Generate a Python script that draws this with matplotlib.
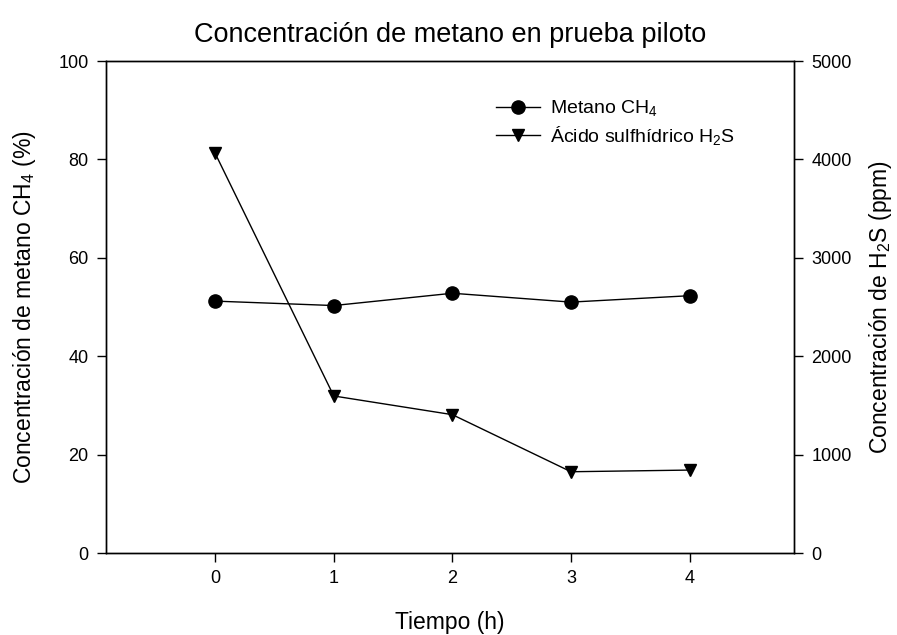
import matplotlib
matplotlib.use('Agg')
import matplotlib.pyplot as plt

plt.rcParams['font.family'] = ['Liberation Sans', 'DejaVu Sans']
plt.rcParams['mathtext.default'] = 'regular'

# Datos de la prueba piloto
tiempo  = [0, 1, 2, 3, 4]
metano  = [51.2, 50.3, 52.8, 51.0, 52.3]      # % CH4
acido   = [4062, 1596, 1406, 826, 843]        # ppm H2S

fig = plt.figure(figsize=(8.97, 6.35), dpi=100)
ax = fig.add_axes([0.1182, 0.1291, 0.767, 0.7748])
ax2 = ax.twinx()

l1, = ax.plot(tiempo, metano, color='black', lw=1, marker='o', ms=9.5,
              label='Metano CH$_4$')
l2, = ax2.plot(tiempo, acido, color='black', lw=1, marker='v', ms=8.5,
               label='Ácido sulfhídrico H$_2$S')

ax.set_xlim(-0.92, 4.88)
ax.set_ylim(0, 100)
ax2.set_ylim(0, 5000)
ax.set_xticks(tiempo)
ax.set_yticks([0, 20, 40, 60, 80, 100])
ax2.set_yticks([0, 1000, 2000, 3000, 4000, 5000])

for a in (ax, ax2):
    a.tick_params(direction='out', length=6.5, width=1, labelsize=13, pad=6)
    for s in a.spines.values():
        s.set_linewidth(1)

ax.set_xlabel('Tiempo (h)', fontsize=16.5, labelpad=17)
ax.set_ylabel('Concentración de metano CH$_4$ (%)', fontsize=16.5, labelpad=15)
ax2.set_ylabel('Concentración de H$_2$S (ppm)', fontsize=16.5, labelpad=11)
ax.set_title('Concentración de metano en prueba piloto', fontsize=19.5, pad=14)

ax.legend(handles=[l1, l2], loc='upper left', bbox_to_anchor=(0.555, 0.94),
          frameon=False, fontsize=14, handlelength=2.27, handletextpad=0.5,
          labelspacing=0.3, borderaxespad=0)

fig.savefig('out.png', dpi=100)
